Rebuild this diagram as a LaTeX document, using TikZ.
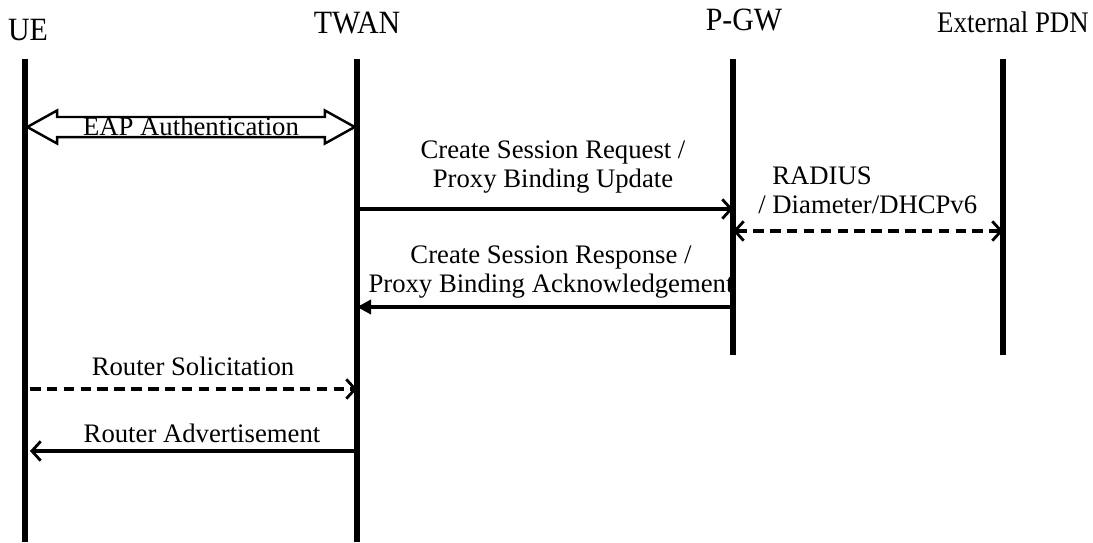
\documentclass[tikz,border=0pt]{standalone}
\usepackage{fontspec}
\setmainfont{Liberation Serif}
\usepackage{graphicx}
\usetikzlibrary{arrows.meta,shapes.arrows,calc}

\newcommand{\hdr}[1]{\scalebox{0.92}[1]{#1}}

\begin{document}
\begin{tikzpicture}
		[x=0.02cm, y=-0.02cm,
		entity/.style={inner sep=0pt,anchor=base,font=\fontsize{18.5}{21}\selectfont},
		lifeline/.style={line width=3pt},
		msg/.style={line width=2.1pt},
		msgtext/.style={inner sep=0pt,anchor=base,align=center,font=\fontsize{15.2}{16.4}\selectfont},
		barb/.tip={Straight Barb[length=5pt,width=11pt,line width=1.6pt]},
		openhead/.style={-barb},
		filledhead/.style={-{Triangle[length=8pt,width=8pt]}},
		dashedmsg/.style={msg,dash pattern=on 6pt off 3.6pt}]

		\useasboundingbox (0,0) rectangle (1093,542);

		% entities
		\node[entity] (ue)   at (28,40)   {\hdr{UE}};
		\node[entity] (twan) at (357,33)  {\hdr{TWAN}};
		\node[entity] (pgw)  at (744,30)  {\hdr{P-GW}};
		\node[entity,font=\fontsize{17}{20}\selectfont] (pdn) at (1013,32) {\scalebox{0.9}[1]{External PDN}};

		\coordinate (ue-top)   at (25,59);   \coordinate (ue-bot)   at (25,542);
		\coordinate (twan-top) at (357,59);  \coordinate (twan-bot) at (357,542);
		\coordinate (pgw-top)  at (733,59);  \coordinate (pgw-bot)  at (733,355);
		\coordinate (pdn-top)  at (1003,59); \coordinate (pdn-bot)  at (1003,355);

		\draw[lifeline] (ue-top) -- (ue-bot);
		\draw[lifeline] (twan-top) -- (twan-bot);
		\draw[lifeline] (pgw-top) -- (pgw-bot);
		\draw[lifeline] (pdn-top) -- (pdn-bot);

		% rows of the messages
		\coordinate (r-eap) at (0,127);
		\coordinate (r-req) at (0,209);
		\coordinate (r-aaa) at (0,231);
		\coordinate (r-rsp) at (0,307);
		\coordinate (r-rs)  at (0,389);
		\coordinate (r-ra)  at (0,451);

		% EAP
		\node[double arrow,draw,line width=1.4pt,inner xsep=0pt,inner ysep=0pt,
			text height=9.6pt,text depth=0.4pt,minimum height=6.55cm,
			double arrow head extend=3.7pt,double arrow tip angle=58,
			font=\fontsize{15.2}{17}\selectfont] (eap)
			at ($(ue-top |- r-eap)!0.5!(twan-top |- r-eap)$) {EAP Authentication};

		% TWAN <-> P-GW
		\draw[msg,openhead] (twan-top |- r-req) -- (pgw-top |- r-req);
		\node[msgtext] (req) at (553,187) {Create Session Request /\\Proxy Binding Update};

		\draw[dashedmsg,barb-barb] (pgw-top |- r-aaa) -- (pdn-top |- r-aaa);
		\node[msgtext,align=left,anchor=base west] (aaa) at (758,213) {\hspace{0.28cm}RADIUS\\/ Diameter/DHCPv6};

		\draw[msg,filledhead] (pgw-top |- r-rsp) -- (twan-top |- r-rsp);
		\node[msgtext] (rsp) at (551,292) {Create Session Response /\\Proxy Binding Acknowledgement};

		% UE <-> TWAN
		\coordinate (ue-r) at (30,0);
		\draw[dashedmsg,openhead] (ue-r |- r-rs) -- (twan-top |- r-rs);
		\node[msgtext] (rs) at (193,375) {Router Solicitation};

		\draw[msg,openhead] (twan-top |- r-ra) -- (ue-r |- r-ra);
		\node[msgtext] (ra) at (202,442) {Router Advertisement};

	\end{tikzpicture}
\end{document}
